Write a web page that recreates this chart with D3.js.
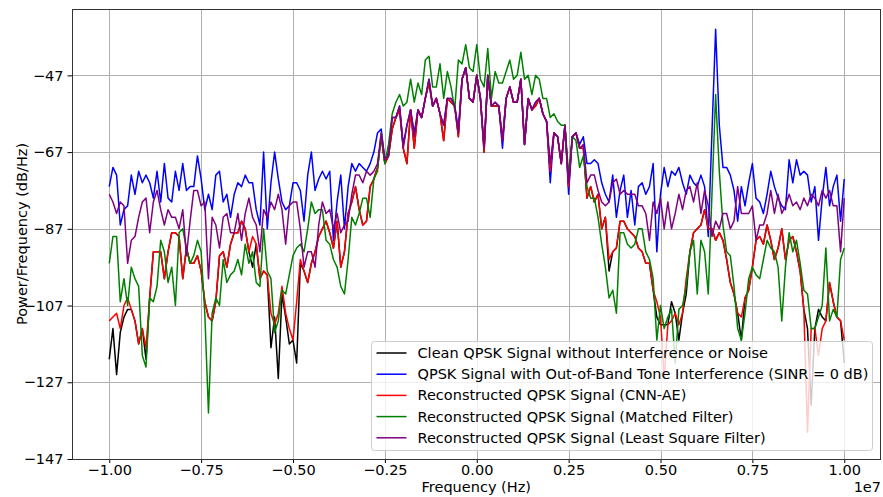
<!DOCTYPE html>
<html>
<head>
<meta charset="utf-8">
<script src="https://cdn.jsdelivr.net/npm/d3@7/dist/d3.min.js"></script>
<style>
  html, body { margin: 0; padding: 0; background: #fff; }
  svg { display: block; font-family: "DejaVu Sans", sans-serif; }
</style>
</head>
<body>
<svg id="chart" width="883" height="497"></svg>
<script>
// Frequency bins, in units of 1e7 Hz (201 bins from -1.0 to 1.0)
const freqBins = d3.range(201).map(i => +(-1 + i * 0.01).toFixed(2));

const xTicks = [-1.0, -0.75, -0.5, -0.25, 0, 0.25, 0.5, 0.75, 1.0];
const yTicks = [-47, -67, -87, -107, -127, -147];

const seriesNames = [
  "Clean QPSK Signal without Interference or Noise",
  "QPSK Signal with Out-of-Band Tone Interference (SINR = 0 dB)",
  "Reconstructed QPSK Signal (CNN-AE)",
  "Reconstructed QPSK Signal (Matched Filter)",
  "Reconstructed QPSK Signal (Least Square Filter)"
];
const seriesColors = ["#000000", "#0000ff", "#ff0000", "#008000", "#800080"];

// Power spectral density, dB/Hz
const cleanPsd = [
  -121,-113,-125,-114,-110,-108,-108,-111,-117,-113,
  -121,-105,-93,-93,-93,-100,-93,-88,-88,-89,
  -100,-92,-96,-96,-94,-98,-106,-110,-111,-106,
  -94,-93,-97,-91,-88,-88,-85,-87,-93,-97,
  -91,-100,-98,-99,-118,-110,-126,-104,-110,-117,
  -116,-122,-96,-98,-101,-96,-93,-89,-87,-85,
  -88,-92,-85,-97,-93,-83,-80,-76,-82,-86,
  -85,-76,-74,-71,-63,-70,-68,-61,-58,-56,
  -66,-70,-56,-66,-56,-58,-53,-49,-55,-53,
  -57,-64,-53,-54,-55,-63,-48,-45,-53,-54,
  -47,-53,-67,-47,-55,-55,-55,-64,-53,-50,
  -54,-54,-48,-65,-53,-56,-55,-53,-57,-59,
  -72,-62,-63,-70,-60,-76,-63,-62,-66,-66,
  -79,-76,-80,-78,-87,-84,-98,-93,-92,-85,
  -85,-87,-88,-89,-92,-93,-96,-96,-103,-110,
  -112,-112,-112,-106,-109,-116,-109,-104,-93,-88,
  -87,-86,-82,-87,-87,-90,-88,-90,-95,-101,
  -104,-109,-116,-105,-103,-97,-90,-89,-91,-86,
  -90,-95,-92,-87,-95,-90,-89,-93,-98,-108,
  -113,-133,-113,-108,-110,-111,-101,-106,-110,-111,-122
];

const interferedPsd = [
  -76,-71,-73,-86,-82,-81,-73,-78,-72,-75,
  -73,-75,-79,-72,-80,-70,-79,-80,-72,-77,
  -70,-77,-76,-76,-68,-74,-82,-78,-82,-73,
  -72,-80,-78,-84,-78,-75,-76,-73,-75,-75,
  -82,-86,-67,-87,-75,-67,-74,-80,-82,-81,
  -75,-75,-77,-85,-73,-67,-77,-74,-72,-74,
  -72,-90,-80,-73,-87,-76,-70,-72,-70,-71,
  -72,-70,-67,-62,-61,-69,-67,-58,-58,-55,
  -65,-60,-56,-62,-56,-58,-53,-48,-55,-53,
  -57,-60,-53,-53,-55,-61,-48,-45,-53,-54,
  -47,-53,-66,-47,-55,-54,-55,-66,-53,-50,
  -54,-54,-48,-65,-53,-56,-54,-53,-57,-59,
  -75,-62,-63,-70,-60,-78,-63,-62,-65,-63,
  -70,-70,-69,-70,-75,-78,-80,-73,-84,-77,
  -73,-84,-77,-86,-76,-75,-78,-76,-70,-93,
  -78,-71,-76,-72,-73,-71,-75,-78,-73,-75,
  -76,-73,-76,-89,-62,-35,-60,-71,-71,-73,
  -77,-85,-76,-81,-75,-70,-79,-80,-83,-78,
  -72,-76,-79,-81,-82,-69,-75,-69,-73,-72,
  -73,-80,-76,-90,-79,-71,-81,-76,-73,-85,-74
];

const cnnAePsd = [
  -111,-110,-109,-113,-107,-105,-108,-111,-117,-113,
  -118,-105,-93,-93,-93,-100,-93,-88,-88,-89,
  -100,-92,-96,-96,-94,-98,-106,-110,-111,-106,
  -94,-93,-97,-91,-88,-88,-85,-87,-93,-89,
  -91,-100,-98,-99,-109,-112,-109,-102,-109,-113,
  -116,-106,-95,-98,-101,-96,-93,-89,-87,-85,
  -88,-92,-85,-97,-93,-83,-80,-76,-82,-86,
  -85,-76,-74,-71,-63,-70,-68,-61,-58,-56,
  -66,-70,-56,-66,-56,-58,-53,-49,-55,-53,
  -57,-64,-53,-54,-55,-63,-48,-45,-53,-54,
  -47,-53,-67,-47,-55,-55,-55,-64,-53,-50,
  -54,-54,-48,-65,-53,-56,-55,-53,-57,-59,
  -72,-62,-63,-70,-60,-76,-63,-62,-66,-66,
  -79,-76,-80,-78,-87,-84,-95,-93,-92,-85,
  -85,-87,-88,-89,-92,-93,-96,-96,-103,-106,
  -110,-126,-112,-111,-109,-112,-109,-100,-93,-88,
  -87,-86,-82,-87,-87,-90,-88,-90,-95,-101,
  -104,-109,-110,-105,-103,-97,-90,-89,-91,-86,
  -90,-95,-92,-87,-95,-90,-89,-93,-98,-108,
  -140,-113,-113,-120,-113,-111,-101,-106,-110,-111,-116
];

const matchedPsd = [
  -96,-89,-89,-106,-100,-107,-97,-100,-102,-120,
  -123,-105,-106,-102,-90,-93,-101,-97,-107,-88,
  -87,-92,-96,-94,-90,-93,-109,-135,-109,-105,
  -107,-95,-101,-99,-98,-95,-99,-91,-96,-93,
  -101,-102,-87,-98,-100,-114,-111,-103,-104,-99,
  -94,-92,-91,-93,-87,-80,-83,-82,-82,-90,
  -91,-95,-97,-102,-104,-95,-84,-86,-83,-79,
  -79,-84,-74,-72,-62,-70,-65,-57,-54,-52,
  -55,-54,-48,-54,-49,-52,-43,-42,-50,-50,
  -44,-53,-46,-50,-56,-43,-44,-39,-45,-46,
  -39,-48,-50,-40,-53,-46,-49,-49,-46,-43,
  -48,-47,-41,-48,-47,-52,-47,-48,-53,-53,
  -58,-57,-59,-60,-60,-73,-63,-64,-71,-68,
  -76,-79,-79,-84,-91,-97,-105,-103,-109,-88,
  -88,-91,-92,-91,-87,-87,-93,-95,-100,-116,
  -107,-113,-110,-108,-122,-108,-107,-102,-93,-90,
  -104,-90,-93,-104,-78,-52,-72,-86,-93,-94,
  -102,-113,-116,-109,-100,-97,-99,-100,-95,-90,
  -92,-93,-97,-111,-97,-88,-93,-90,-96,-103,
  -104,-113,-113,-110,-107,-92,-111,-108,-110,-95,-92
];

const leastSquarePsd = [
  -78,-80,-83,-80,-81,-96,-90,-89,-84,-80,
  -79,-88,-80,-77,-82,-86,-82,-84,-84,-87,
  -82,-94,-85,-77,-77,-81,-80,-100,-84,-86,
  -92,-84,-83,-88,-88,-83,-90,-83,-79,-84,
  -86,-93,-82,-84,-80,-82,-78,-82,-91,-81,
  -80,-80,-87,-97,-93,-93,-97,-86,-80,-83,
  -82,-87,-83,-88,-86,-85,-78,-73,-73,-75,
  -72,-73,-72,-70,-62,-69,-68,-58,-58,-55,
  -66,-60,-56,-63,-56,-58,-53,-48,-55,-53,
  -57,-60,-53,-53,-55,-62,-48,-45,-53,-54,
  -47,-53,-66,-47,-55,-54,-55,-64,-53,-50,
  -54,-54,-48,-65,-53,-56,-54,-53,-57,-59,
  -70,-62,-63,-70,-60,-75,-63,-62,-66,-65,
  -75,-73,-73,-77,-80,-81,-80,-75,-74,-78,
  -77,-78,-78,-78,-81,-81,-83,-90,-80,-83,
  -79,-87,-80,-87,-83,-78,-82,-77,-76,-80,
  -75,-83,-77,-81,-89,-85,-87,-83,-83,-87,
  -85,-76,-83,-83,-83,-81,-90,-86,-86,-83,
  -77,-83,-78,-83,-81,-78,-81,-80,-82,-79,
  -81,-78,-79,-81,-77,-79,-77,-81,-81,-93,-79
];

const seriesValues = [cleanPsd, interferedPsd, cnnAePsd, matchedPsd, leastSquarePsd];

// ---- layout ----
const svg = d3.select("#chart");
const plot = { left: 72.5, right: 881, top: 9, bottom: 459 };
const fontSize = "14.5px";

const x = d3.scaleLinear().domain([-1.1, 1.1]).range([plot.left, plot.right]);
const y = d3.scaleLinear().domain([-147, -29.7]).range([plot.bottom, plot.top]);

const fmtMinus = s => s.replace("-", "\u2212");

// grid
const grid = svg.append("g").attr("stroke", "#b0b0b0").attr("stroke-width", 1);
grid.selectAll("line.gx").data(xTicks).join("line")
  .attr("x1", d => Math.round(x(d)) + 0.5).attr("x2", d => Math.round(x(d)) + 0.5)
  .attr("y1", plot.top).attr("y2", plot.bottom);
grid.selectAll("line.gy").data(yTicks).join("line")
  .attr("y1", d => Math.round(y(d)) + 0.5).attr("y2", d => Math.round(y(d)) + 0.5)
  .attr("x1", plot.left).attr("x2", plot.right);

// clip for series
svg.append("defs").append("clipPath").attr("id", "plotClip")
  .append("rect")
  .attr("x", plot.left).attr("y", plot.top)
  .attr("width", plot.right - plot.left).attr("height", plot.bottom - plot.top);

const line = d3.line()
  .x((d, i) => x(freqBins[i]))
  .y(d => y(d));

const seriesG = svg.append("g").attr("clip-path", "url(#plotClip)");
seriesValues.forEach((vals, k) => {
  seriesG.append("path")
    .datum(vals)
    .attr("fill", "none")
    .attr("stroke", seriesColors[k])
    .attr("stroke-width", 1.5)
    .attr("stroke-linejoin", "round")
    .attr("d", line);
});

// axes
const xAxis = d3.axisBottom(x).tickValues(xTicks)
  .tickFormat(d => fmtMinus(d3.format(".2f")(d)))
  .tickSize(4).tickPadding(2);
const yAxis = d3.axisLeft(y).tickValues(yTicks)
  .tickFormat(d => fmtMinus(String(d)))
  .tickSize(5).tickPadding(4);

const gx = svg.append("g").attr("transform", `translate(0,${plot.bottom})`).call(xAxis);
const gy = svg.append("g").attr("transform", `translate(${plot.left},0)`).call(yAxis);
[gx, gy].forEach(g => {
  g.select(".domain").remove();
  g.selectAll(".tick line").attr("stroke", "#000").attr("stroke-width", 1);
  g.selectAll(".tick text").attr("fill", "#000")
    .style("font-family", "DejaVu Sans").style("font-size", fontSize);
});

// frame
svg.append("rect")
  .attr("x", plot.left).attr("y", plot.top + 0.5)
  .attr("width", plot.right - plot.left - 0.5).attr("height", plot.bottom - plot.top)
  .attr("fill", "none").attr("stroke", "#333").attr("stroke-width", 1);

// axis labels
svg.append("text")
  .attr("x", (plot.left + plot.right) / 2 - 0.5).attr("y", 492)
  .attr("text-anchor", "middle").style("font-size", fontSize)
  .text("Frequency (Hz)");
svg.append("text")
  .attr("transform", `translate(27,${(plot.top + plot.bottom) / 2}) rotate(-90)`)
  .attr("text-anchor", "middle").style("font-size", fontSize)
  .text("Power/Frequency (dB/Hz)");
svg.append("text")
  .attr("x", plot.right).attr("y", 492)
  .attr("text-anchor", "end").style("font-size", fontSize)
  .text("1e7");

// legend
const lg = { x: 371.5, y: 341.5, w: 501, h: 109, row: 21.2 };
const legend = svg.append("g");
legend.append("rect")
  .attr("x", lg.x).attr("y", lg.y).attr("width", lg.w).attr("height", lg.h)
  .attr("rx", 3).attr("ry", 3)
  .attr("fill", "#fff").attr("fill-opacity", 0.8)
  .attr("stroke", "#cccccc").attr("stroke-width", 1);
seriesNames.forEach((name, k) => {
  const cy = lg.y + 11.5 + k * lg.row;
  legend.append("line")
    .attr("x1", lg.x + 5).attr("x2", lg.x + 35)
    .attr("y1", cy).attr("y2", cy)
    .attr("stroke", seriesColors[k]).attr("stroke-width", 1.5);
  legend.append("text")
    .attr("x", lg.x + 46).attr("y", cy + 5)
    .style("font-size", fontSize)
    .text(name);
});
</script>
</body>
</html>
